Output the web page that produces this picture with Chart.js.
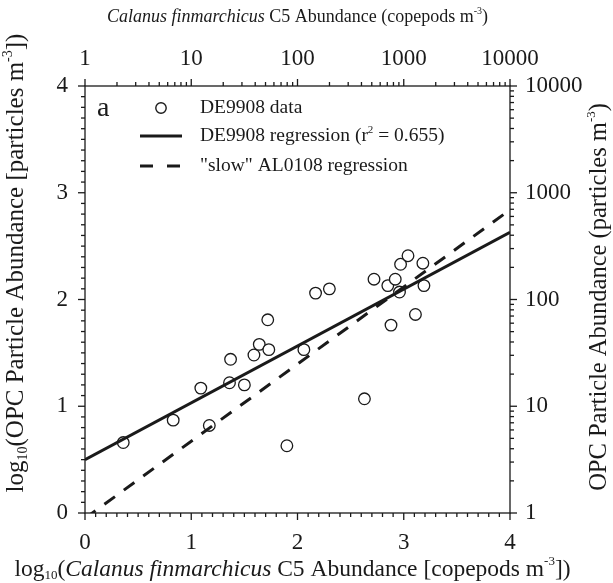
<!DOCTYPE html>
<html>
<head>
<meta charset="utf-8">
<script src="https://cdn.jsdelivr.net/npm/chart.js@4.4.1/dist/chart.umd.min.js"></script>
<style>
  html, body { margin: 0; padding: 0; background: #fff; }
  #wrap { width: 613px; height: 583px; }
</style>
</head>
<body>
<div id="wrap"><canvas id="c" width="613" height="583"></canvas></div>
<script>
// log10 C5 abundance vs log10 OPC particle abundance, DE9908 stations
const c5Log = [0.36, 0.83, 1.09, 1.17, 1.36, 1.37, 1.50, 1.59, 1.64, 1.72, 1.73, 1.90, 2.06,
               2.17, 2.30, 2.63, 2.72, 2.85, 2.88, 2.92, 2.96, 2.97, 3.04, 3.11, 3.18, 3.19];
const opcLog = [0.66, 0.87, 1.17, 0.82, 1.22, 1.44, 1.20, 1.48, 1.58, 1.81, 1.53, 0.63, 1.53,
                2.06, 2.10, 1.07, 2.19, 2.13, 1.76, 2.19, 2.07, 2.33, 2.41, 1.86, 2.34, 2.13];

// regression lines, evaluated at the ends of the x range
const fitX = [0, 4];
const de9908Fit = [0.50, 2.63];
const al0108Fit = [-0.05, 2.84];

const linTicks = [0, 1, 2, 3, 4];
const logTicks = [1, 10, 100, 1000, 10000];
const logTickLabels = ['1', '10', '100', '1000', '10000'];

const SERIF = "'Liberation Serif', 'DejaVu Serif', serif";
const INK = '#1a1a1a';

function pts(xs, ys) {
    return xs.map(function (x, i) { return { x: x, y: ys[i] }; });
}

// draw a run of text pieces (italic / sub / sup) centred on (cx, cy)
function drawRuns(ctx, runs, size, cx, cy, angle) {
    const small = Math.round(size * 0.55);
    const fontOf = function (r) {
        const s = r.sub || r.sup ? small : size;
        return (r.italic ? 'italic ' : '') + s + 'px ' + SERIF;
    };
    let total = 0;
    runs.forEach(function (r) {
        ctx.font = fontOf(r);
        total += ctx.measureText(r.text).width;
    });
    ctx.save();
    ctx.translate(cx, cy);
    ctx.rotate(angle || 0);
    ctx.fillStyle = INK;
    ctx.textBaseline = 'alphabetic';
    ctx.textAlign = 'left';
    let x = -total / 2;
    const base = size * 0.33;
    runs.forEach(function (r) {
        ctx.font = fontOf(r);
        let dy = 0;
        if (r.sub) dy = size * 0.15;
        if (r.sup) dy = -size * 0.45;
        ctx.fillText(r.text, x, base + dy);
        x += ctx.measureText(r.text).width;
    });
    ctx.restore();
}

const frame = {
    id: 'frame',
    afterDraw(chart) {
        const ctx = chart.ctx;
        const a = chart.chartArea;
        const sx = chart.scales.x, sy = chart.scales.y;
        const sx2 = chart.scales.x2, sy2 = chart.scales.y2;
        ctx.save();
        ctx.strokeStyle = INK;
        ctx.lineWidth = 1.3;
        ctx.strokeRect(a.left, a.top, a.right - a.left, a.bottom - a.top);

        function tick(x1, y1, x2, y2) {
            ctx.beginPath();
            ctx.moveTo(x1, y1);
            ctx.lineTo(x2, y2);
            ctx.stroke();
        }
        const MAJ = 7, MIN = 4;
        // linear axes: bottom and left, minor every 0.1
        for (let i = 0; i <= 40; i++) {
            const v = i / 10;
            const len = i % 10 === 0 ? MAJ : MIN;
            const px = sx.getPixelForValue(v);
            tick(px, a.bottom, px, a.bottom + len);
            const py = sy.getPixelForValue(v);
            tick(a.left, py, a.left - len, py);
        }
        // log axes: top and right
        for (let d = 1; d <= 10000; d *= 10) {
            for (let m = 1; m <= 9; m++) {
                const v = d * m;
                if (v > 10000) break;
                const len = m === 1 ? MAJ : MIN;
                const px = sx2.getPixelForValue(v);
                tick(px, a.top, px, a.top - len);
                const py = sy2.getPixelForValue(v);
                tick(a.right, py, a.right + len, py);
            }
        }

        // axis titles
        const cx = (a.left + a.right) / 2;
        drawRuns(ctx, [
            { text: 'Calanus finmarchicus', italic: true },
            { text: ' C5 Abundance (copepods m' },
            { text: '-3', sup: true },
            { text: ')' },
        ], 18, cx, 16);
        drawRuns(ctx, [
            { text: 'log' },
            { text: '10', sub: true },
            { text: '(' },
            { text: 'Calanus finmarchicus', italic: true },
            { text: ' C5 Abundance [copepods m' },
            { text: '-3', sup: true },
            { text: '])' },
        ], 23.5, cx - 5, 568);
        drawRuns(ctx, [
            { text: 'log' },
            { text: '10', sub: true },
            { text: '(OPC Particle Abundance [particles m' },
            { text: '-3', sup: true },
            { text: '])' },
        ], 25, 15, 263, -Math.PI / 2);
        drawRuns(ctx, [
            { text: 'OPC Particle Abundance (particles m' },
            { text: '-3', sup: true },
            { text: ')' },
        ], 24.5, 598, 297, -Math.PI / 2);

        // panel letter and legend
        ctx.fillStyle = INK;
        ctx.font = '28px ' + SERIF;
        ctx.textBaseline = 'alphabetic';
        ctx.textAlign = 'left';
        ctx.fillText('a', 97, 116);

        ctx.lineWidth = 1.4;
        ctx.beginPath();
        ctx.arc(161, 108, 5.2, 0, Math.PI * 2);
        ctx.stroke();

        ctx.lineWidth = 3;
        ctx.setLineDash([]);
        tick(140, 136, 182, 136);
        ctx.setLineDash([13, 14]);
        tick(140, 166, 182, 166);
        ctx.setLineDash([]);

        ctx.font = '19.5px ' + SERIF;
        ctx.textBaseline = 'middle';
        ctx.fillText('DE9908 data', 200, 108);
        let t = 'DE9908 regression (r';
        ctx.fillText(t, 200, 136);
        let w = ctx.measureText(t).width;
        ctx.font = '11px ' + SERIF;
        ctx.fillText('2', 200 + w, 130);
        const w2 = ctx.measureText('2').width;
        ctx.font = '19.5px ' + SERIF;
        ctx.fillText(' = 0.655)', 200 + w + w2, 136);
        ctx.fillText('"slow" AL0108 regression', 200, 166);
        ctx.restore();
    },
};

const tickFont = { family: SERIF, size: 23 };

new Chart(document.getElementById('c'), {
    data: {
        datasets: [
            {
                type: 'line',
                label: 'DE9908 regression',
                data: pts(fitX, de9908Fit),
                borderColor: INK,
                borderWidth: 3,
                pointRadius: 0,
                clip: 0,
                xAxisID: 'x',
                yAxisID: 'y',
            },
            {
                type: 'line',
                label: '"slow" AL0108 regression',
                data: pts(fitX, al0108Fit),
                borderColor: INK,
                borderWidth: 3,
                borderDash: [13, 11],
                pointRadius: 0,
                clip: 0,
                xAxisID: 'x',
                yAxisID: 'y',
            },
            {
                type: 'scatter',
                label: 'DE9908 data',
                data: pts(c5Log, opcLog),
                backgroundColor: '#fff',
                borderColor: INK,
                borderWidth: 1.3,
                pointRadius: 5.8,
                xAxisID: 'x',
                yAxisID: 'y',
            },
        ],
    },
    options: {
        responsive: false,
        animation: false,
        layout: { padding: 0 },
        plugins: {
            legend: { display: false },
            tooltip: { enabled: false },
        },
        scales: {
            x: {
                type: 'linear',
                position: 'bottom',
                min: 0,
                max: 4,
                afterBuildTicks(s) { s.ticks = linTicks.map(function (v) { return { value: v }; }); },
                ticks: { font: tickFont, color: INK, padding: 16, maxRotation: 0 },
                grid: { display: false, drawTicks: false },
                border: { display: false },
                afterFit(s) { s.height = 70; },
            },
            x2: {
                type: 'logarithmic',
                position: 'top',
                min: 1,
                max: 10000,
                afterBuildTicks(s) { s.ticks = logTicks.map(function (v) { return { value: v }; }); },
                ticks: {
                    font: tickFont, color: INK, padding: 13, maxRotation: 0,
                    callback(v, i) { return logTickLabels[i]; },
                },
                grid: { display: false, drawTicks: false },
                border: { display: false },
                afterFit(s) { s.height = 86; },
            },
            y: {
                type: 'linear',
                position: 'left',
                min: 0,
                max: 4,
                afterBuildTicks(s) { s.ticks = linTicks.map(function (v) { return { value: v }; }); },
                ticks: { font: tickFont, color: INK, padding: 17 },
                grid: { display: false, drawTicks: false },
                border: { display: false },
                afterFit(s) { s.width = 85; },
            },
            y2: {
                type: 'logarithmic',
                position: 'right',
                min: 1,
                max: 10000,
                afterBuildTicks(s) { s.ticks = logTicks.map(function (v) { return { value: v }; }); },
                ticks: {
                    font: tickFont, color: INK, padding: 15,
                    callback(v, i) { return logTickLabels[i]; },
                },
                grid: { display: false, drawTicks: false },
                border: { display: false },
                afterFit(s) { s.width = 103; },
            },
        },
    },
    plugins: [frame],
});
</script>
</body>
</html>
